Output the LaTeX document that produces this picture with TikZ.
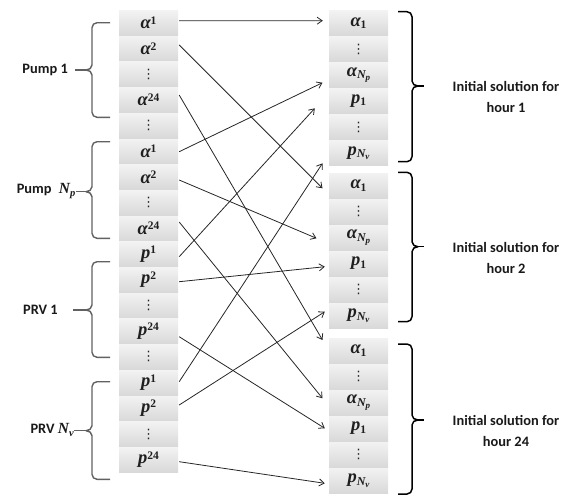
\documentclass[tikz,border=0pt]{standalone}
\usepackage{fontspec}
\setmainfont{Carlito}
\newfontfamily\mf{Liberation Serif}
\newfontfamily\dv{DejaVu Sans}
\usetikzlibrary{arrows.meta,calc}
\newcommand\vd{{\dv\fontsize{13}{13}\selectfont ⋮}}
\newcommand\gl[1]{{\mf\bfseries\itshape\fontsize{18.5}{19}\selectfont #1}}
\newcommand\su[1]{\raisebox{4.5pt}{\mf\bfseries\fontsize{11.5}{11}\selectfont #1}}
\newcommand\sbx[1]{\raisebox{-2.5pt}{\mf\bfseries\fontsize{11.5}{11}\selectfont #1}}
\newcommand\sbN[1]{\raisebox{-2.5pt}{\mf\bfseries\itshape\fontsize{12}{11}\selectfont N\raisebox{-2pt}{\fontsize{9}{8}\selectfont #1}}}
\newcommand\labN[1]{{\mf\bfseries\itshape\fontsize{15.5}{16}\selectfont N\raisebox{-2.5pt}{\fontsize{10.5}{10}\selectfont #1}}}
\newcommand\leftbr[4]{%
  \draw[lbr] (110,#1) -- (97,#1) to[out=180,in=90] (92,{#1+5}) -- (92,{#2-5})
    to[out=270,in=0] (86,#2) to[out=0,in=90] (92,{#2+5}) -- (92,{#3-5})
    to[out=270,in=180] (97,#3) -- (110,#3);
  \draw[lbr] (86,#2) -- (#4,#2);}
\newcommand\rightbr[3]{%
  \draw[rbr] (398,#1) -- (407,#1) to[out=0,in=90] (412,{#1+5}) -- (412,{#2-5})
    to[out=270,in=180] (418,#2) to[out=180,in=90] (412,{#2+5}) -- (412,{#3-5})
    to[out=270,in=0] (407,#3) -- (398,#3);
  \draw[rbr] (418,#2) -- (424,#2);}
\begin{document}
\begin{tikzpicture}[x=1pt,y=-1pt,
  cell/.style={minimum width=59pt, minimum height=24.7pt, inner sep=0pt,
    top color=black!5, bottom color=black!15, draw=none, text=black!88},
  rcell/.style={cell, minimum height=25pt},
  arr/.style={-{Straight Barb[length=5pt,width=7pt]}, line width=0.8pt, black!85},
  lbr/.style={line width=1.4pt, black!62, line join=round},
  rbr/.style={line width=1.5pt, black, line join=round},
  lab/.style={font=\fontsize{14.4}{21.5}\selectfont\bfseries, inner sep=0pt, text=black!90},
]
\useasboundingbox (0,0) rectangle (571,496);

% left column
\foreach \t [count=\i] in {\gl{α}\su{1},\gl{α}\su{2},\vd,\gl{α}\su{24},\vd,
  \gl{α}\su{1},\gl{α}\su{2},\vd,\gl{α}\su{24},
  \gl{p}\su{1},\gl{p}\su{2},\vd,\gl{p}\su{24},\vd,
  \gl{p}\su{1},\gl{p}\su{2},\vd,\gl{p}\su{24}}
  \node[cell] (L\i) at (148.5,{22.85+25.7*(\i-1)}) {\t};

% right column
\foreach \b/\T in {1/10,2/172.5,3/337.5}
  \foreach \t [count=\j] in {\gl{α}\sbx{1},\vd,\gl{α}\sbN{p},\gl{p}\sbx{1},\vd,\gl{p}\sbN{v}}
    \node[rcell] (R\b-\j) at (358.5,{\T+13+26*(\j-1)}) {\t};

% connectors
\draw[arr] ($(L1.east)+(1,-2.15)$)  -- ($(R1-1.west)+(-6,-2.3)$);
\draw[arr] ($(L2.east)+(1,-3.55)$)  -- ($(R2-1.west)+(-6.3,2.8)$);
\draw[arr] ($(L4.east)+(1,-4.95)$)  -- ($(R3-1.west)+(-6.3,-10.5)$);
\draw[arr] ($(L6.east)+(1,0.35)$)   -- ($(R1-3.west)+(-6.3,7.7)$);
\draw[arr] ($(L7.east)+(1,2.95)$)   -- ($(R2-3.west)+(-12.3,0.8)$);
\draw[arr] ($(L9.east)+(1,-6.45)$)  -- ($(R3-3.west)+(-6.3,-4.2)$);
\draw[arr] ($(L10.east)+(1,2.55)$)  -- ($(R1-4.west)+(-14,7.3)$);
\draw[arr] ($(L11.east)+(1,1.85)$)  -- ($(R2-4.west)+(-4,3.2)$);
\draw[arr] ($(L13.east)+(1,5.45)$)  -- ($(R3-4.west)+(-4,-0.2)$);
\draw[arr] ($(L15.east)+(1,-0.95)$) -- ($(R1-6.west)+(-6.3,10.3)$);
\draw[arr] ($(L16.east)+(1,-3.35)$) -- ($(R2-6.west)+(-4,-3.8)$);
\draw[arr] ($(L18.east)+(1,1.95)$)  -- ($(R3-6.west)+(-4,2.8)$);

% left braces and labels
\leftbr{22.7}{70}{117.3}{75}
\leftbr{141.7}{191.7}{238.3}{76}
\leftbr{261.7}{310}{357.3}{73}
\leftbr{381.7}{430.7}{479.3}{74}
\node[lab, anchor=east] (pump1) at (68,70) {Pump 1};
\node[lab, anchor=east] (pumpn) at (75.5,191) {Pump\hspace{0.5em}\labN{p}};
\node[lab, anchor=east] (prv1) at (58,310) {PRV 1};
\node[lab, anchor=east] (prvn) at (74,430) {PRV \labN{v}};

% right braces and labels
\rightbr{11.7}{86}{161.7}
\rightbr{172.3}{246.7}{321.7}
\rightbr{344}{420}{494}
\node[lab, anchor=north, align=center] (h1) at (506,81) {Initial solution for\\hour 1};
\node[lab, anchor=north, align=center] (h2) at (506,242) {Initial solution for\\hour 2};
\node[lab, anchor=north, align=center] (h24) at (506,415) {Initial solution for\\hour 24};
\end{tikzpicture}
\end{document}
